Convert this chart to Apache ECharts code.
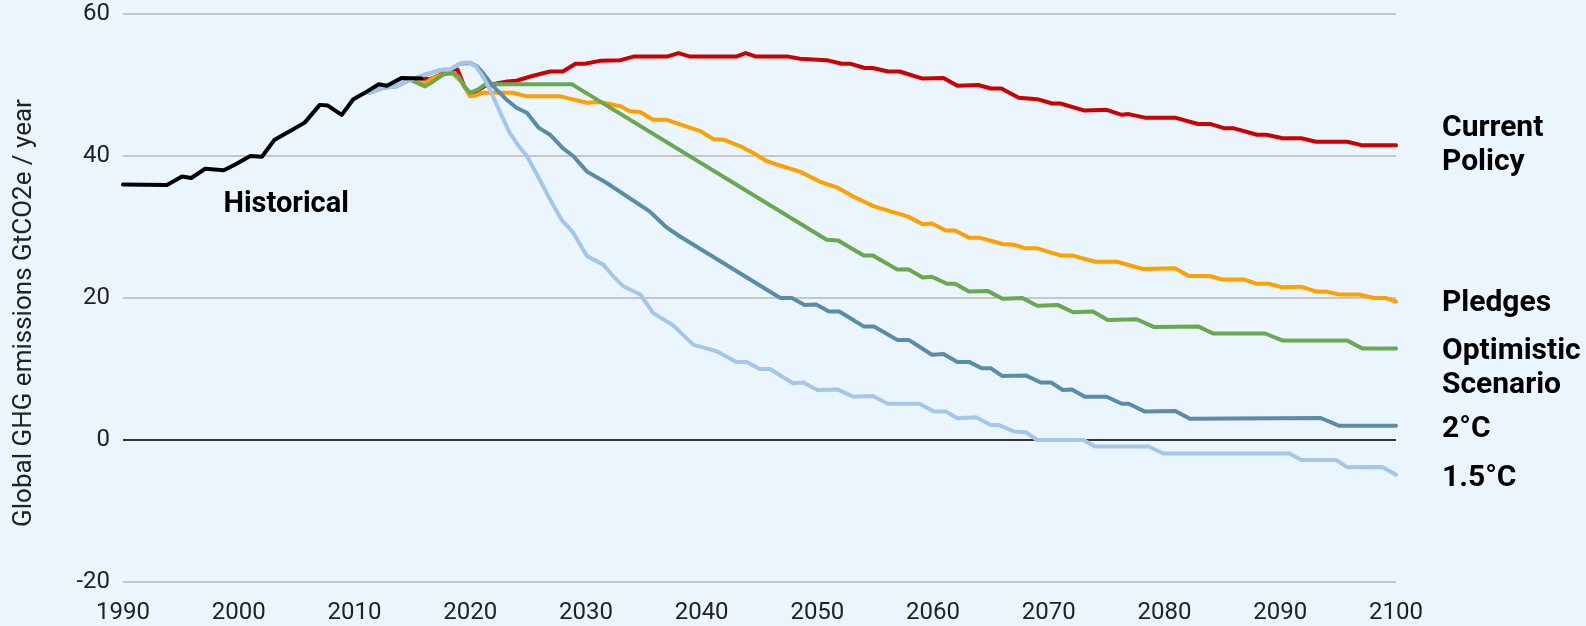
<!DOCTYPE html>
<html>
<head>
<meta charset="utf-8">
<script src="https://cdn.jsdelivr.net/npm/echarts@6/dist/echarts.min.js"></script>
<style>
html,body{margin:0;padding:0;background:#ebf5fe;}
#chart{width:1586px;height:626px;}
</style>
</head>
<body>
<div id="chart"></div>
<script>
// ---- data ----
var seriesNames = ['Current Policy', 'Pledges', 'Optimistic Scenario', '2°C', '1.5°C', 'Historical'];
var endLabelTexts = ['Current\nPolicy', 'Pledges', 'Optimistic\nScenario', '2°C', '1.5°C', ''];
var historicalLabel = 'Historical';
var yTicks = [-20, 0, 20, 40, 60];
var xTicks = [1990, 2000, 2010, 2020, 2030, 2040, 2050, 2060, 2070, 2080, 2090, 2100];

var historical = [[1990,36.0],[1993.8,35.9],[1995.1,37.1],[1995.9,36.9],[1997.1,38.2],[1998.7,38.0],[1999.7,38.8],[2001.0,40.0],[2002.0,39.9],[2003.1,42.3],[2004.4,43.5],[2005.7,44.7],[2007.0,47.2],[2007.7,47.1],[2008.9,45.8],[2009.9,48.0],[2011.1,49.1],[2012.1,50.1],[2012.8,49.9],[2014.1,51.0],[2015.8,50.9]];

var currentPolicy = [[2015.8,50.9],[2016.5,50.8],[2017.5,51.5],[2018.5,52.2],[2018.9,52.2],[2019.5,49.8],[2020.0,48.7],[2020.6,49.2],[2021.3,49.9],[2022.3,50.2],[2023.2,50.5],[2024.0,50.6],[2025.2,51.2],[2026.9,51.9],[2028.0,51.9],[2029.1,53.0],[2029.9,53.0],[2031.2,53.4],[2033.0,53.5],[2034.1,54.0],[2037.0,54.0],[2038.0,54.5],[2039.0,54.0],[2043.0,54.0],[2043.8,54.5],[2044.7,54.0],[2047.5,54.0],[2048.5,53.7],[2050.8,53.5],[2052.1,53.0],[2052.8,53.0],[2054.1,52.4],[2054.8,52.4],[2056.1,51.9],[2057.1,51.9],[2059.1,50.9],[2060.9,51.0],[2062.1,49.9],[2063.9,50.0],[2065.0,49.5],[2065.9,49.5],[2067.4,48.2],[2069.0,48.0],[2070.3,47.4],[2071.0,47.4],[2073.1,46.4],[2075.0,46.5],[2076.3,45.8],[2076.9,45.9],[2078.3,45.4],[2080.9,45.4],[2082.9,44.5],[2084.0,44.5],[2085.2,43.9],[2086.0,43.9],[2088.0,43.0],[2088.8,43.0],[2090.2,42.5],[2091.8,42.5],[2093.1,42.0],[2095.8,42.0],[2097.1,41.5],[2100,41.5]];

var pledges = [[2014.8,50.7],[2016.0,50.2],[2016.8,51.0],[2018.0,51.7],[2018.5,51.6],[2019.3,50.3],[2020.0,48.4],[2020.6,48.6],[2021.0,48.9],[2023.7,48.9],[2024.9,48.4],[2027.8,48.4],[2030.1,47.5],[2031.2,47.6],[2033.0,47.0],[2033.8,46.3],[2034.7,46.2],[2035.8,45.1],[2037.0,45.1],[2038.4,44.3],[2039.9,43.5],[2041.0,42.4],[2041.9,42.3],[2043.3,41.4],[2044.5,40.4],[2045.6,39.3],[2046.5,38.8],[2048.5,37.8],[2050.2,36.4],[2051.8,35.5],[2053.1,34.3],[2054.9,32.9],[2057.8,31.5],[2059.1,30.4],[2059.9,30.5],[2061.1,29.5],[2061.9,29.5],[2063.1,28.5],[2064.0,28.5],[2066.0,27.6],[2067.0,27.5],[2068.0,27.0],[2069.0,27.0],[2071.0,26.0],[2072.0,26.0],[2074.0,25.1],[2075.9,25.1],[2078.1,24.1],[2080.9,24.2],[2082.1,23.1],[2083.9,23.1],[2085.0,22.6],[2086.9,22.6],[2088.0,22.0],[2089.0,22.0],[2090.2,21.5],[2091.8,21.6],[2093.1,20.9],[2094.0,20.9],[2095.1,20.5],[2096.8,20.5],[2098.1,20.0],[2099.1,20.0],[2100,19.5]];

var optimistic = [[2015.0,50.6],[2016.1,49.8],[2016.8,50.5],[2017.7,51.5],[2018.5,51.7],[2019.0,51.2],[2019.5,49.8],[2020.0,48.9],[2020.7,49.4],[2021.3,50.1],[2022.3,50.1],[2028.8,50.1],[2029.3,49.6],[2050.8,28.2],[2051.8,28.1],[2054.0,26.0],[2054.8,26.0],[2056.9,24.0],[2057.9,24.0],[2059.1,22.9],[2059.9,23.0],[2061.2,22.0],[2061.9,22.0],[2063.1,20.9],[2064.7,21.0],[2066.0,19.9],[2067.7,20.0],[2069.0,18.9],[2070.8,19.0],[2072.1,18.0],[2073.8,18.1],[2075.1,16.9],[2077.6,17.0],[2079.1,15.9],[2082.9,16.0],[2084.2,15.0],[2088.7,15.0],[2090.2,14.0],[2095.8,14.0],[2097.1,12.9],[2100,12.9]];

var twoDeg = [[2011.3,48.9],[2012.5,49.6],[2013.6,49.8],[2014.8,50.7],[2016.2,51.5],[2017.4,52.1],[2018.3,52.2],[2019.1,53.0],[2020.0,53.1],[2020.6,52.6],[2021.1,51.7],[2022.0,49.8],[2023.1,48.0],[2024.0,46.8],[2024.9,46.1],[2025.9,44.0],[2026.9,43.0],[2028.0,41.1],[2028.9,40.0],[2030.1,37.8],[2031.8,36.2],[2035.5,32.2],[2037.0,29.9],[2038.1,28.7],[2046.8,20.0],[2047.8,20.0],[2048.9,19.0],[2049.9,19.1],[2051.0,18.1],[2051.9,18.1],[2054.0,16.0],[2054.9,16.0],[2056.9,14.1],[2057.9,14.1],[2059.9,12.0],[2060.9,12.1],[2062.1,11.0],[2063.1,11.0],[2064.2,10.1],[2065.0,10.1],[2066.0,9.0],[2068.0,9.1],[2069.3,8.1],[2070.2,8.1],[2071.2,7.05],[2072.0,7.1],[2073.1,6.1],[2075.0,6.1],[2076.3,5.1],[2076.9,5.1],[2078.3,4.0],[2080.9,4.1],[2082.2,3.0],[2093.5,3.1],[2095.1,2.0],[2100,2.0]];

var onePointFive = [[2011.3,48.9],[2012.5,49.6],[2013.6,49.8],[2014.8,50.7],[2016.2,51.5],[2017.4,52.1],[2018.3,52.2],[2019.1,53.0],[2019.8,53.2],[2020.5,52.6],[2021.1,51.2],[2021.7,49.4],[2022.6,46.1],[2023.4,43.3],[2024.2,41.4],[2024.9,40.0],[2026.0,36.7],[2026.9,33.9],[2027.9,31.0],[2028.9,29.2],[2030.1,25.9],[2031.5,24.7],[2032.4,23.0],[2033.2,21.7],[2034.7,20.5],[2035.8,17.9],[2037.5,16.2],[2039.3,13.4],[2040.4,12.9],[2041.3,12.5],[2043.0,11.0],[2043.9,11.0],[2045.0,10.0],[2045.9,10.0],[2047.9,8.0],[2048.8,8.1],[2050.0,7.05],[2051.8,7.1],[2053.1,6.1],[2054.8,6.2],[2056.1,5.1],[2058.8,5.1],[2060.1,4.0],[2061.1,4.0],[2062.1,3.05],[2063.7,3.2],[2065.0,2.1],[2065.7,2.1],[2067.0,1.2],[2068.0,1.1],[2069.0,0],[2073.0,0],[2074.0,-0.9],[2078.6,-0.9],[2079.9,-1.9],[2090.8,-1.9],[2091.8,-2.8],[2094.8,-2.8],[2095.8,-3.85],[2098.8,-3.8],[2100,-4.9]];

var historicalLabelPos = [2004.1, 33.2];

// ---- styles ----
var colors = ['#cc0000', '#ff9f00', '#6aa84f', '#5b8ca6', '#a5c6e8', '#000000'];
var labelOffsets = [[0, 0], [0, 2], [0, 20], [0, 4], [0, 4], [0, 0]];
var dataSets = [currentPolicy, pledges, optimistic, twoDeg, onePointFive, historical];
var FONT = 'Roboto, "Noto Sans", sans-serif';

var series = dataSets.map(function (d, i) {
  var s = {
    name: seriesNames[i],
    type: 'line',
    data: d,
    showSymbol: false,
    symbol: 'none',
    smooth: false,
    lineStyle: { color: colors[i], width: 4, cap: 'round', join: 'round' },
    itemStyle: { color: colors[i] },
    z: 2 + i,
    endLabel: {
      show: endLabelTexts[i] !== '',
      formatter: endLabelTexts[i],
      color: '#000',
      fontFamily: FONT,
      fontWeight: 'bold',
      fontSize: 30,
      lineHeight: 34,
      distance: 46,
      offset: labelOffsets[i],
      align: 'left'
    }
  };
  if (i === 5) {
    s.markPoint = {
      symbol: 'circle',
      symbolSize: 0,
      silent: true,
      data: [{ coord: historicalLabelPos }],
      label: {
        show: true,
        position: 'inside',
        formatter: historicalLabel,
        color: '#000',
        fontFamily: FONT,
        fontWeight: 'bold',
        fontSize: 29
      }
    };
  }
  return s;
});

var chart = echarts.init(document.getElementById('chart'), null, { renderer: 'canvas' });
chart.setOption({
  backgroundColor: '#ebf5fe',
  animation: false,
  grid: { left: 123, right: 190, top: 14, bottom: 44, containLabel: false },
  xAxis: {
    type: 'value',
    min: xTicks[0],
    max: xTicks[xTicks.length - 1],
    interval: 10,
    axisLine: { show: false },
    axisTick: { show: false },
    splitLine: { show: false },
    axisLabel: {
      color: '#222',
      fontFamily: FONT,
      fontSize: 24,
      margin: 19,
      formatter: function (v) { return String(v); }
    }
  },
  yAxis: {
    type: 'value',
    min: yTicks[0],
    max: yTicks[yTicks.length - 1],
    interval: 20,
    name: 'Global GHG emissions GtCO2e / year',
    nameLocation: 'middle',
    nameGap: 86,
    nameTextStyle: { color: '#222', fontFamily: FONT, fontSize: 26, padding: [0, 30, 0, 0] },
    axisLine: { show: false },
    axisTick: { show: false },
    axisLabel: { color: '#222', fontFamily: FONT, fontSize: 24, margin: 13 },
    splitLine: {
      show: true,
      lineStyle: { color: ['#c6c6c6', '#333333', '#c6c6c6', '#c6c6c6', '#c6c6c6'], width: 2 }
    }
  },
  series: series
});
</script>
</body>
</html>
